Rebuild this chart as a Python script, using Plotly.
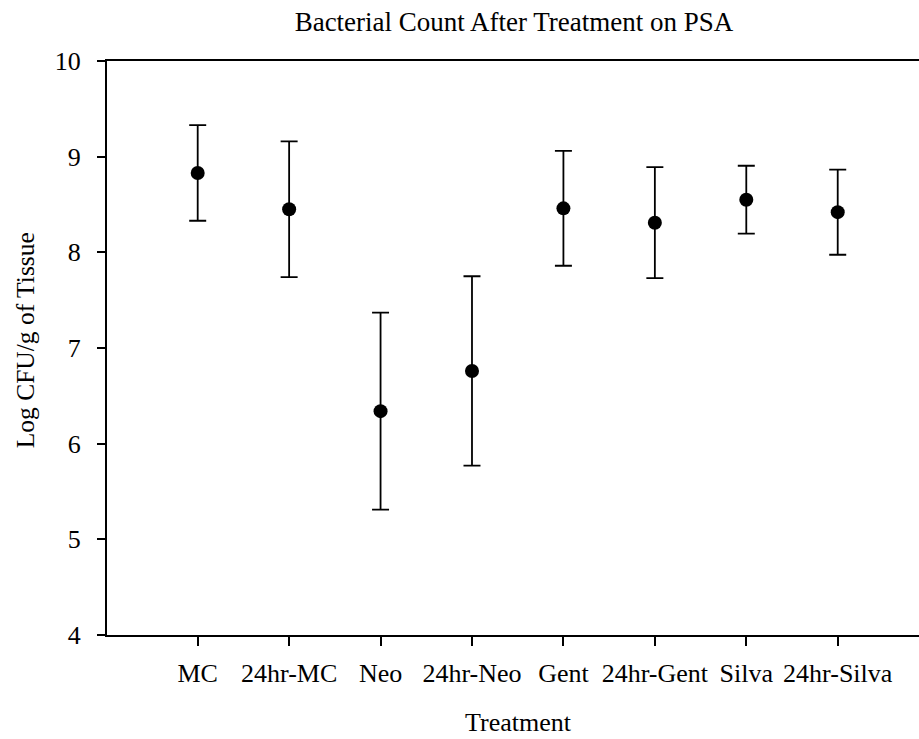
import plotly.graph_objects as go

categories = ["MC", "24hr-MC", "Neo", "24hr-Neo", "Gent", "24hr-Gent", "Silva", "24hr-Silva"]
means = [8.83, 8.45, 6.34, 6.76, 8.46, 8.31, 8.55, 8.42]
errors = [0.50, 0.71, 1.03, 0.99, 0.60, 0.58, 0.355, 0.445]
positions = list(range(1, len(categories) + 1))

FONT = "Liberation Serif, Times New Roman, serif"

fig = go.Figure()
fig.add_trace(go.Scatter(
    x=positions, y=means, mode="markers",
    marker=dict(color="black", size=14),
    error_y=dict(type="data", array=errors, visible=True, color="black",
                 thickness=1.8, width=8.5),
    showlegend=False,
))

fig.update_layout(
    width=919, height=739,
    margin=dict(l=107, r=0, t=61, b=104),
    paper_bgcolor="white", plot_bgcolor="white",
    font=dict(family=FONT, color="black", size=26),
    title=dict(text="Bacterial Count After Treatment on PSA", x=514 / 919, xanchor="center",
               y=1 - 22 / 739, yanchor="middle", yref="container",
               font=dict(family=FONT, size=27, color="black")),
    annotations=[
        dict(text="Treatment", xref="paper", yref="paper",
             x=(518 - 107) / 812, y=-(722 - 634.7) / 574, xanchor="center", yanchor="middle",
             showarrow=False, font=dict(family=FONT, size=26, color="black")),
        dict(text="Log CFU/g of Tissue", xref="paper", yref="paper",
             x=-(107 - 25) / 812, y=(634.7 - 340) / 574, xanchor="center", yanchor="middle",
             textangle=-90, showarrow=False, font=dict(family=FONT, size=25.5, color="black")),
    ],
)
fig.update_xaxes(
    range=[0.008, 8.889], tickmode="array", tickvals=positions, ticktext=categories,
    showline=True, linecolor="black", linewidth=2, mirror=True,
    ticks="outside", ticklen=9, tickwidth=1.8, tickcolor="black",
    showgrid=False, zeroline=False, automargin=False,
    tickfont=dict(family=FONT, size=26), ticklabelstandoff=5,
)
fig.update_yaxes(
    range=[4, 10], tickmode="linear", tick0=4, dtick=1,
    showline=True, linecolor="black", linewidth=2, mirror=False,
    ticks="outside", ticklen=8, tickwidth=1.8, tickcolor="black",
    showgrid=False, zeroline=False, automargin=False,
    tickfont=dict(family=FONT, size=26), ticklabelstandoff=11,
)

fig.write_html(
    "out.html",
    config={"displayModeBar": False},
    post_script="document.body.style.margin='0';document.body.style.padding='0';",
)
